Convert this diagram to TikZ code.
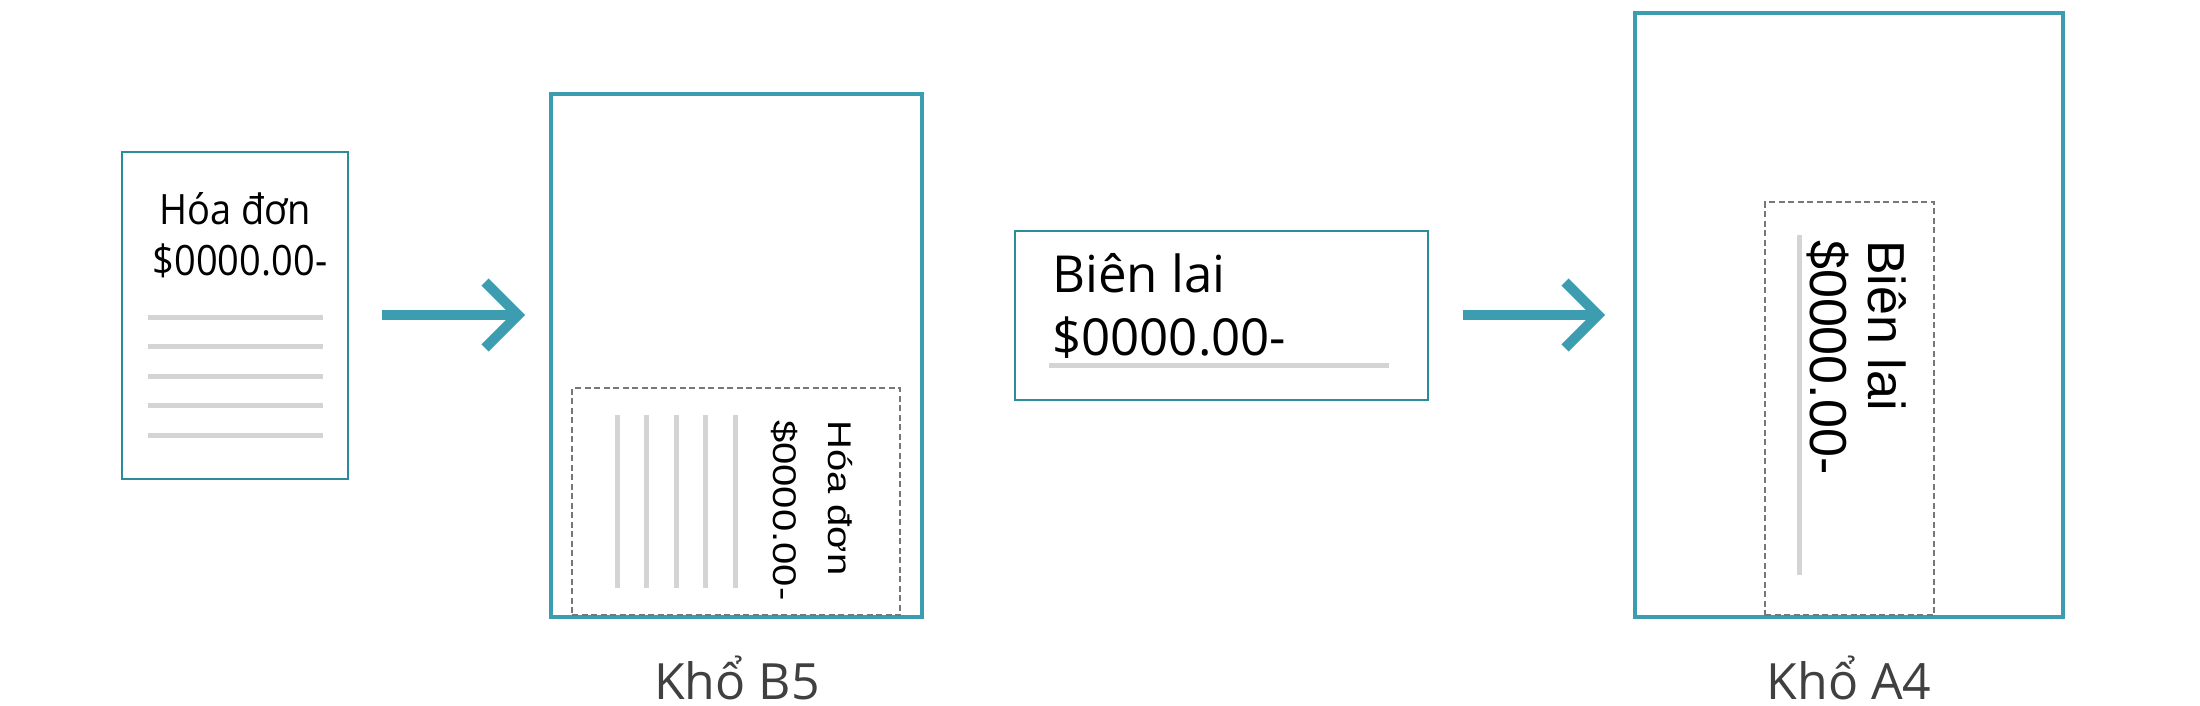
\documentclass[tikz,border=0pt]{standalone}
\usepackage{fontspec}
\usepackage{graphicx}
\setmainfont{Open Sans}
\newfontfamily\rotfont{Liberation Sans}
\usetikzlibrary{calc}
\definecolor{tealA}{HTML}{3D9DB0}
\definecolor{tealB}{HTML}{2B8C9B}
\definecolor{lgray}{HTML}{D4D4D4}
\definecolor{dgray}{HTML}{777777}
\definecolor{lblgray}{HTML}{404040}
\begin{document}
\begin{tikzpicture}[x=1pt,y=-1pt,
  thinbox/.style={draw=tealB, line width=2pt, inner sep=0pt, fill=white},
  pagebox/.style={draw=tealA, line width=4pt, inner sep=0pt, fill=white},
  dashbox/.style={draw=dgray, line width=1.6pt, dash pattern=on 6pt off 3.5pt, inner sep=0pt},
  rulegray/.style={draw=lgray, line width=5pt},
  arrowline/.style={draw=tealA, line width=10pt, miter limit=10},
  txt/.style={inner sep=0pt, text=black},
  smallfont/.style={font=\fontsize{38pt}{46pt}\selectfont},
  bigfont/.style={font=\fontsize{51pt}{60pt}\selectfont},
  lbl/.style={inner sep=0pt, text=lblgray, font=\fontsize{50pt}{60pt}\selectfont, anchor=base}
]
\useasboundingbox (0,0) rectangle (2200,706);

% --- invoice (left) ---
\node[thinbox, minimum width=226pt, minimum height=327pt] (inv) at (235,315.5) {};
\node[txt, smallfont, anchor=base] (invt1) at (235,224) {\scalebox{1}[1.1]{Hóa đơn}};
\node[txt, smallfont, anchor=base] (invt2) at (240,275) {\scalebox{1}[1.1]{\$0000.00-}};
\foreach \yy in {317,346,376,405,435}
  \draw[rulegray] (148,\yy) -- (323,\yy);

% --- arrow 1 ---
\coordinate (a1s) at (382,315);
\coordinate (a1t) at (518,315);
\draw[arrowline] (a1s) -- (a1t);
\draw[arrowline] ($(a1t)+(-33,-33)$) -- (a1t) -- ($(a1t)+(-33,33)$);

% --- B5 page ---
\node[pagebox, minimum width=371pt, minimum height=523pt] (b5) at (736.5,355.5) {};
\node[dashbox, minimum width=328pt, minimum height=227pt] (b5d) at (736,501.5) {};
\foreach \xx in {617,646,676,705,735}
  \draw[rulegray] (\xx,415) -- (\xx,588);
\node[txt, rotate=-90, anchor=base west, font=\rotfont\fontsize{40pt}{48pt}\selectfont] (b5t1) at (828,420) {\scalebox{1}[0.82]{Hóa đơn}};
\node[txt, rotate=-90, anchor=base west, font=\rotfont\fontsize{40pt}{48pt}\selectfont] (b5t2) at (773,420) {\scalebox{1}[0.82]{\$0000.00-}};
\node[lbl] (b5l) at (737,699) {Khổ B5};

% --- receipt ---
\node[thinbox, minimum width=413pt, minimum height=169pt] (rec) at (1221.5,315.5) {};
\node[txt, bigfont, anchor=base west] (rect1) at (1052,292) {Biên lai};
\node[txt, bigfont, anchor=base west] (rect2) at (1052,355) {\$0000.00-};
\draw[rulegray] (1049,365) -- (1389,365);

% --- arrow 2 ---
\coordinate (a2s) at (1463,315);
\coordinate (a2t) at (1598,315);
\draw[arrowline] (a2s) -- (a2t);
\draw[arrowline] ($(a2t)+(-33,-33)$) -- (a2t) -- ($(a2t)+(-33,33)$);

% --- A4 page ---
\node[pagebox, minimum width=428pt, minimum height=604pt] (a4) at (1849,315) {};
\node[dashbox, minimum width=169pt, minimum height=413pt] (a4d) at (1849.5,408.5) {};
\draw[rulegray] (1799,235) -- (1799,575);
\node[txt, rotate=-90, anchor=base west, font=\rotfont\fontsize{52pt}{60pt}\selectfont] (a4t1) at (1868,240) {Biên lai};
\node[txt, rotate=-90, anchor=base west, font=\rotfont\fontsize{52pt}{60pt}\selectfont] (a4t2) at (1810,240) {\$0000.00-};
\node[lbl] (a4l) at (1849,699) {Khổ A4};
\end{tikzpicture}
\end{document}
